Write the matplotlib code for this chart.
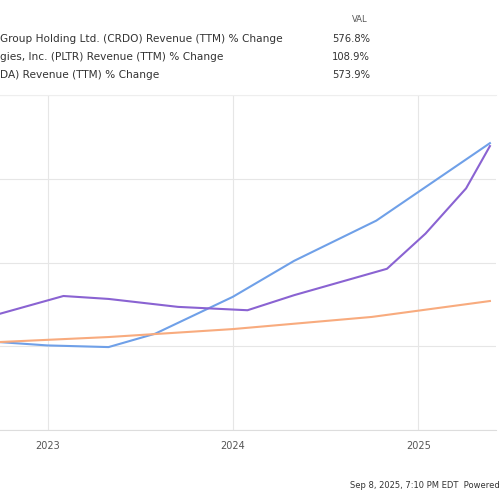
import pandas as pd
import matplotlib.pyplot as plt

# ---------------------------------------
# Series (% change)
# ---------------------------------------
crdo_dates = ["2022-09-27", "2022-12-31", "2023-05-01", "2023-08-01", "2024-01-01",
              "2024-05-01", "2024-10-10", "2025-05-22"]
crdo_vals = [10, 2, -2, 30, 118, 204, 300, 485]

pltr_dates = ["2022-09-27", "2023-05-01", "2024-01-01", "2024-10-01", "2025-05-22"]
pltr_vals = [10, 22, 41, 70, 108]

nvda_dates = ["2022-09-27", "2023-02-01", "2023-05-01", "2023-09-15", "2024-01-30",
              "2024-05-01", "2024-10-31", "2025-01-15", "2025-04-05", "2025-05-22"]
nvda_vals = [77, 120, 113, 94, 86, 122, 185, 269, 377, 478]

legend_names = ["Group Holding Ltd. (CRDO) Revenue (TTM) % Change",
                "gies, Inc. (PLTR) Revenue (TTM) % Change",
                "DA) Revenue (TTM) % Change"]
legend_vals = ["576.8%", "108.9%", "573.9%"]
colors = ["#6fa0e8", "#f8ab7e", "#8a63d2"]

fig = plt.figure(figsize=(5, 5), dpi=100)
ax = fig.add_axes([-0.002, 0.14, 0.994, 0.67])

series = [(crdo_dates, crdo_vals), (pltr_dates, pltr_vals), (nvda_dates, nvda_vals)]
for (d, v), c in zip(series, colors):
    ax.plot(pd.to_datetime(d), v, color=c, lw=1.5)

ax.set_xlim(pd.Timestamp("2022-09-27"), pd.Timestamp("2025-06-03"))
ax.set_ylim(-200, 600)
ax.set_yticks([-200, 0, 200, 400, 600])
ax.set_xticks(pd.to_datetime(["2023-01-01", "2024-01-01", "2025-01-01"]))
ax.set_xticklabels(["2023", "2024", "2025"], color="#555555", fontsize=7)
ax.tick_params(axis="y", labelleft=False, left=False)
ax.tick_params(axis="x", length=0, pad=8)
ax.grid(True, color="#e6e6e6", lw=0.8)
for s in ["right", "left"]:
    ax.spines[s].set_visible(False)
ax.spines["bottom"].set_color("#dddddd")
ax.spines["top"].set_color("#eeeeee")

# Legend table at the top
fig.text(0.735, 0.955, "VAL", fontsize=6, color="#555555", ha="right")
for i, (name, val) in enumerate(zip(legend_names, legend_vals)):
    y = 0.915 - i * 0.035
    fig.text(0.0, y, name, fontsize=7.6, color="#333333")
    fig.text(0.74, y, val, fontsize=7.2, color="#333333", ha="right")

fig.text(1.0, 0.025, "Sep 8, 2025, 7:10 PM EDT  Powered", fontsize=6, color="#333333", ha="right")

fig.savefig("out.png", dpi=100)
